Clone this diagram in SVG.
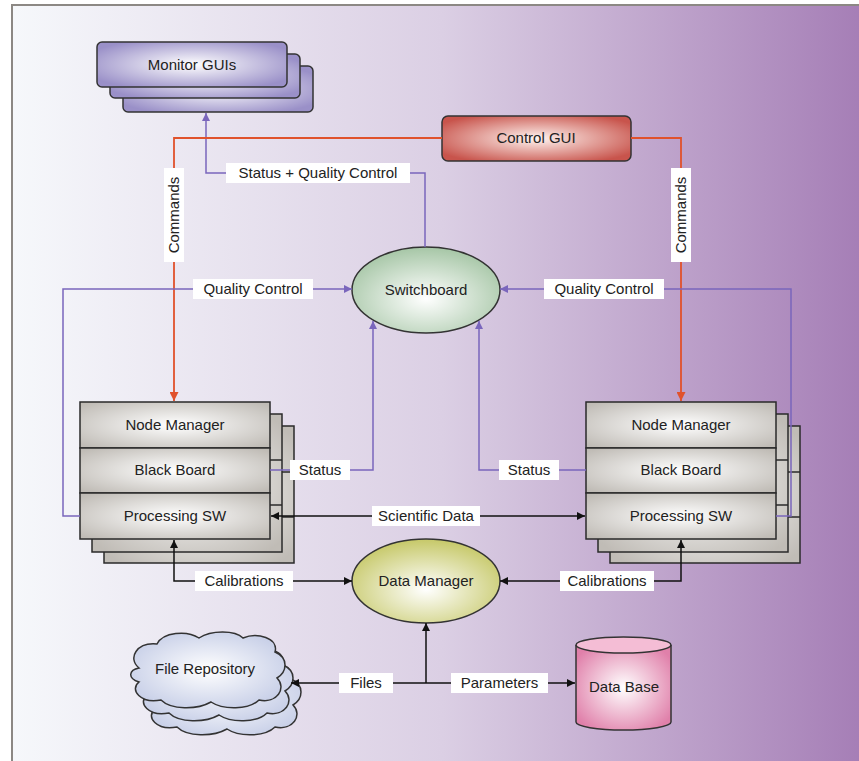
<svg xmlns="http://www.w3.org/2000/svg" width="859" height="761" viewBox="0 0 859 761">
<defs>
<linearGradient id="bg" x1="0" y1="0" x2="1" y2="0">
<stop offset="0" stop-color="#f6f8fb"/>
<stop offset="0.5" stop-color="#dbcfe4"/>
<stop offset="1" stop-color="#a47cb5"/>
</linearGradient>
<radialGradient id="gPurple" cx="50%" cy="50%" r="60%"><stop offset="0" stop-color="#ffffff"/><stop offset="1" stop-color="#9a90c8"/></radialGradient>
<radialGradient id="gRed" cx="50%" cy="50%" r="60%"><stop offset="0" stop-color="#fff4f0"/><stop offset="1" stop-color="#c8544c"/></radialGradient>
<radialGradient id="gGreen" cx="50%" cy="60%" r="60%"><stop offset="0" stop-color="#ffffff"/><stop offset="1" stop-color="#a6c6a6"/></radialGradient>
<radialGradient id="gYellow" cx="50%" cy="60%" r="60%"><stop offset="0" stop-color="#ffffff"/><stop offset="1" stop-color="#c6c868"/></radialGradient>
<radialGradient id="gPink" cx="50%" cy="50%" r="60%"><stop offset="0" stop-color="#ffffff"/><stop offset="1" stop-color="#e080aa"/></radialGradient>
<radialGradient id="gCloud" cx="50%" cy="50%" r="60%"><stop offset="0" stop-color="#ffffff"/><stop offset="1" stop-color="#c4cce6"/></radialGradient>
<radialGradient id="gGray" cx="50%" cy="50%" r="65%"><stop offset="0" stop-color="#ffffff"/><stop offset="1" stop-color="#c0bcb6"/></radialGradient>
<marker id="aP" viewBox="0 0 10 10" refX="10" refY="5" markerWidth="10" markerHeight="8" markerUnits="userSpaceOnUse" orient="auto-start-reverse"><path d="M0,0 L10,5 L0,10 z" fill="#7a66bc"/></marker>
<marker id="aO" viewBox="0 0 10 10" refX="10" refY="5" markerWidth="10" markerHeight="9" markerUnits="userSpaceOnUse" orient="auto-start-reverse"><path d="M0,0 L10,5 L0,10 z" fill="#e0522c"/></marker>
<marker id="aK" viewBox="0 0 10 10" refX="10" refY="5" markerWidth="10" markerHeight="8" markerUnits="userSpaceOnUse" orient="auto-start-reverse"><path d="M0,0 L10,5 L0,10 z" fill="#111"/></marker>
<path id="cloud" d="M12,38 C0,28 10,12 30,14 C36,2 60,0 72,8 C84,0 108,0 116,8 C130,2 152,8 148,22 C162,28 160,42 150,48 C160,58 150,74 132,70 C122,80 96,80 84,72 C70,80 44,80 34,70 C14,74 2,60 12,52 C0,48 2,40 12,38 Z"/>
</defs>
<style>
text{font-family:"Liberation Sans",Arial,sans-serif;font-size:15px;fill:#222;text-anchor:middle}
.box{stroke:#333;stroke-width:1.5}
.sec{fill:url(#gGray);stroke:#2a2a2a;stroke-width:1.5}
.lbl{fill:#fff}
.p{fill:none;stroke:#7a66bc;stroke-width:1.5}
.o{fill:none;stroke:#e0522c;stroke-width:1.8}
.k{fill:none;stroke:#111;stroke-width:1.5}
</style>
<rect x="0" y="0" width="859" height="761" fill="#fff"/>
<rect x="12" y="5" width="860" height="770" fill="url(#bg)" stroke="#8c8884" stroke-width="2"/>

<g id="monitor-guis">
<rect class="box" x="123" y="66" width="190" height="46" rx="5" fill="url(#gPurple)"/>
<rect class="box" x="110" y="54" width="190" height="44" rx="5" fill="url(#gPurple)"/>
<rect class="box" x="97" y="42" width="190" height="45" rx="5" fill="url(#gPurple)"/>
<text x="192" y="70">Monitor GUIs</text>
</g>

<g id="control-gui">
<rect class="box" x="442" y="116" width="189" height="45" rx="6" fill="url(#gRed)"/>
<text x="536" y="143">Control GUI</text>
</g>

<g id="switchboard">
<ellipse class="box" cx="426" cy="290" rx="74" ry="43" fill="url(#gGreen)"/>
<text x="426" y="295">Switchboard</text>
</g>

<g id="node-left">
<rect class="sec" x="104" y="426" width="190" height="137"/>
<line x1="104" y1="472" x2="294" y2="472" stroke="#2a2a2a" stroke-width="1.5"/>
<line x1="104" y1="517" x2="294" y2="517" stroke="#2a2a2a" stroke-width="1.5"/>
<rect class="sec" x="92" y="414" width="190" height="138"/>
<line x1="92" y1="460" x2="282" y2="460" stroke="#2a2a2a" stroke-width="1.5"/>
<line x1="92" y1="505" x2="282" y2="505" stroke="#2a2a2a" stroke-width="1.5"/>
<rect class="sec" x="80" y="402" width="190" height="46"/>
<rect class="sec" x="80" y="448" width="190" height="45"/>
<rect class="sec" x="80" y="493" width="190" height="46"/>
<text x="175" y="430">Node Manager</text>
<text x="175" y="475">Black Board</text>
<text x="175" y="521">Processing SW</text>
</g>

<g id="node-right">
<rect class="sec" x="610" y="426" width="190" height="137"/>
<line x1="610" y1="472" x2="800" y2="472" stroke="#2a2a2a" stroke-width="1.5"/>
<line x1="610" y1="517" x2="800" y2="517" stroke="#2a2a2a" stroke-width="1.5"/>
<rect class="sec" x="598" y="414" width="190" height="138"/>
<line x1="598" y1="460" x2="788" y2="460" stroke="#2a2a2a" stroke-width="1.5"/>
<line x1="598" y1="505" x2="788" y2="505" stroke="#2a2a2a" stroke-width="1.5"/>
<rect class="sec" x="586" y="402" width="190" height="46"/>
<rect class="sec" x="586" y="448" width="190" height="45"/>
<rect class="sec" x="586" y="493" width="190" height="46"/>
<text x="681" y="430">Node Manager</text>
<text x="681" y="475">Black Board</text>
<text x="681" y="521">Processing SW</text>
</g>

<g id="data-manager">
<ellipse class="box" cx="426" cy="581" rx="74" ry="42" fill="url(#gYellow)"/>
<text x="426" y="586">Data Manager</text>
</g>

<g id="file-repository">
<use href="#cloud" transform="translate(143,657)" fill="url(#gCloud)" stroke="#333" stroke-width="1.5"/>
<use href="#cloud" transform="translate(135,643)" fill="url(#gCloud)" stroke="#333" stroke-width="1.5"/>
<use href="#cloud" transform="translate(127,630)" fill="url(#gCloud)" stroke="#333" stroke-width="1.5"/>
<text x="205" y="674">File Repository</text>
</g>

<g id="data-base">
<path d="M576,645 V722 A47.5,8 0 0 0 671,722 V645" fill="url(#gPink)" stroke="#333" stroke-width="1.5"/>
<ellipse cx="623.5" cy="645" rx="47.5" ry="8" fill="#f4bdd5" stroke="#333" stroke-width="1.5"/>
<text x="624" y="692">Data Base</text>
</g>

<g id="connectors">
<path class="p" d="M425,247 V173 H206 V113" marker-end="url(#aP)"/>
<path class="o" d="M442,138 H174 V401" marker-end="url(#aO)"/>
<path class="o" d="M631,138 H681 V401" marker-end="url(#aO)"/>
<path class="p" d="M80,516 H63 V289 H352" marker-end="url(#aP)"/>
<path class="p" d="M776,516 H791 V289 H500" marker-end="url(#aP)"/>
<path class="p" d="M270,470 H373 V321" marker-end="url(#aP)"/>
<path class="p" d="M586,470 H479 V321" marker-end="url(#aP)"/>
<path class="k" d="M271,516 H585" marker-start="url(#aK)" marker-end="url(#aK)"/>
<path class="k" d="M174,540 V581 H352" marker-start="url(#aK)" marker-end="url(#aK)"/>
<path class="k" d="M681,540 V581 H500" marker-start="url(#aK)" marker-end="url(#aK)"/>
<path class="k" d="M426,683 V623" marker-end="url(#aK)"/>
<path class="k" d="M426,683 H291" marker-end="url(#aK)"/>
<path class="k" d="M426,683 H575" marker-end="url(#aK)"/>
<g id="labels">
<rect class="lbl" x="226" y="163" width="184" height="20"/><text x="318" y="178">Status + Quality Control</text>
<rect class="lbl" x="164" y="168" width="20" height="94"/><text transform="translate(179,215) rotate(-90)">Commands</text>
<rect class="lbl" x="671" y="168" width="20" height="94"/><text transform="translate(686,215) rotate(-90)">Commands</text>
<rect class="lbl" x="193" y="279" width="120" height="20"/><text x="253" y="294">Quality Control</text>
<rect class="lbl" x="544" y="279" width="120" height="20"/><text x="604" y="294">Quality Control</text>
<rect class="lbl" x="290" y="460" width="60" height="20"/><text x="320" y="475">Status</text>
<rect class="lbl" x="499" y="460" width="60" height="20"/><text x="529" y="475">Status</text>
<rect class="lbl" x="372" y="506" width="108" height="20"/><text x="426" y="521">Scientific Data</text>
<rect class="lbl" x="195" y="571" width="98" height="20"/><text x="244" y="586">Calibrations</text>
<rect class="lbl" x="560" y="571" width="94" height="20"/><text x="607" y="586">Calibrations</text>
<rect class="lbl" x="339" y="673" width="54" height="20"/><text x="366" y="688">Files</text>
<rect class="lbl" x="451" y="673" width="97" height="20"/><text x="499.5" y="688">Parameters</text>
</g>
</g>
</svg>
